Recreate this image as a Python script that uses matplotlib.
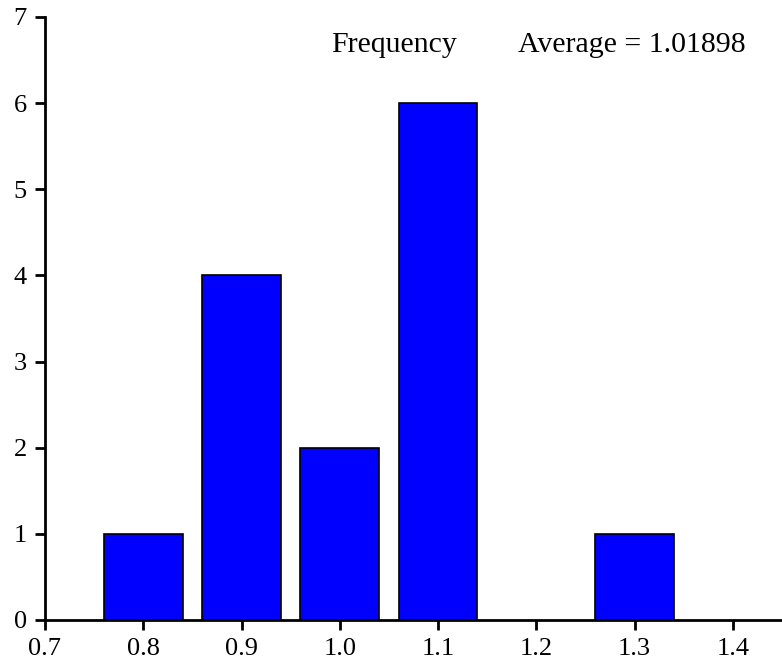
import matplotlib
matplotlib.use("Agg")
import matplotlib.pyplot as plt

bin_centers = [0.8, 0.9, 1.0, 1.1, 1.3]
counts = [1, 4, 2, 6, 1]
average = 1.01898

plt.rcParams["font.family"] = ["Liberation Serif", "DejaVu Serif"]

fig = plt.figure(figsize=(7.82, 6.68), dpi=100)
ax = fig.add_axes([0.0575, 0.0719, 0.9425, 0.9027])
ax.bar(bin_centers, counts, width=0.08, color="#0000ff", edgecolor="black", linewidth=1.2)

ax.set_xlim(0.7, 1.45)
ax.set_ylim(0, 7)
ax.set_xticks([0.7, 0.8, 0.9, 1.0, 1.1, 1.2, 1.3, 1.4])
ax.set_xticklabels(["0.7", "0.8", "0.9", "1.0", "1.1", "1.2", "1.3", "1.4"])
ax.set_yticks(range(8))
ax.tick_params(direction="out", length=7, width=2, labelsize=19, pad=6)
for s in ["top", "right"]:
    ax.spines[s].set_visible(False)
for s in ["left", "bottom"]:
    ax.spines[s].set_linewidth(2)

ax.text(0.991, 6.68, "Frequency", fontsize=21.5, va="center", ha="left")
ax.text(1.1816, 6.68, f"Average = {average:.5f}", fontsize=21.5, va="center", ha="left")

fig.savefig("out.png", dpi=100)
